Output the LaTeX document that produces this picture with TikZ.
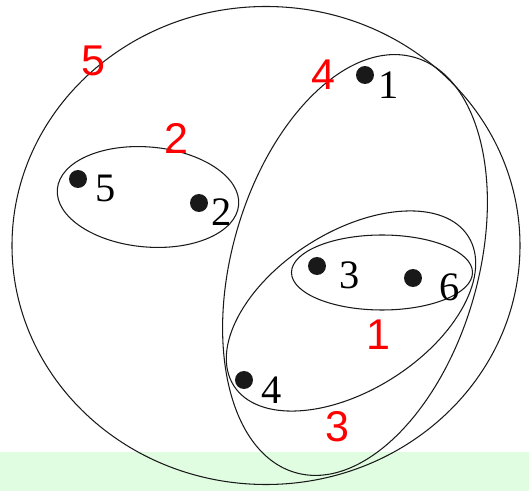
\documentclass[tikz,border=0pt]{standalone}
\usepackage{fontspec}
\setmainfont{Liberation Serif}
\newfontfamily\redfont{Liberation Sans}
\usepackage{xcolor}
\definecolor{bandgreen}{RGB}{225,253,225}
\usetikzlibrary{positioning}

\begin{document}
\begin{tikzpicture}[x=0.02cm,y=0.02cm,
	dot/.style={circle,fill=black!90,inner sep=0pt,minimum size=0.36cm},
	elem/.style={font=\fontsize{23}{27}\selectfont,inner sep=0pt},
	setno/.style={font=\redfont\fontsize{24.5}{28}\selectfont,text=red,inner sep=0pt},
	set/.style={line width=0.6pt,black!90}]
	\useasboundingbox (0,0) rectangle (529,491);
	\fill[bandgreen] (0,0) rectangle (529,39);
	% the sets
	\draw[set] (266,245.5) ellipse [x radius=254, y radius=239];
	\draw[set] (148,294) ellipse [x radius=91, y radius=50, rotate=-5];
	\draw[set] (355,226) ellipse [x radius=123, y radius=216, rotate=-16];
	\draw[set] (351,180) ellipse [x radius=139, y radius=79, rotate=32.5];
	\draw[set] (382,218.5) ellipse [x radius=90.5, y radius=37.5];
	% the elements
	\node[dot] (d1) at (365,416) {};
	\node[dot] (d2) at (199,288) {};
	\node[dot] (d3) at (317,225) {};
	\node[dot] (d4) at (244,111) {};
	\node[dot] (d5) at (78,312) {};
	\node[dot] (d6) at (413,213) {};
	\node[elem] (e1) at (389,406) {1};
	\node[elem] (e2) at (222,279) {2};
	\node[elem] (e3) at (350,216) {3};
	\node[elem] (e4) at (272,101) {4};
	\node[elem] (e5) at (106,303) {5};
	\node[elem] (e6) at (450,204) {6};
	% set numbers
	\node[setno] (s1) at (378,156) {1};
	\node[setno] (s2) at (176,353) {2};
	\node[setno] (s3) at (337,64) {3};
	\node[setno] (s4) at (323,416) {4};
	\node[setno] (s5) at (93,430) {5};
\end{tikzpicture}
\end{document}
